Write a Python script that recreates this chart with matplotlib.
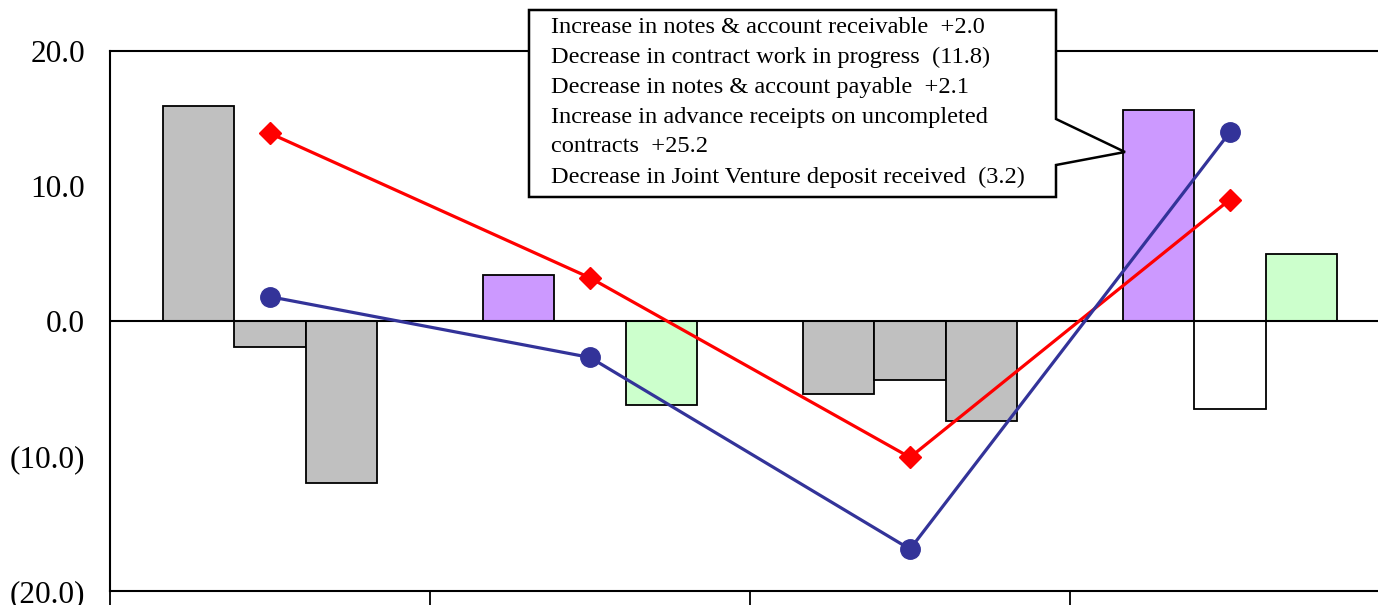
import numpy as np
import matplotlib
matplotlib.use("Agg")
import matplotlib.pyplot as plt
from matplotlib.patches import Polygon

plt.rcParams['font.family'] = ['Liberation Serif', 'DejaVu Serif']

# ---- data ----
groups = [0, 1, 2, 3]
bar_a = [15.9, 3.4, -5.4, 15.6]
bar_b = [-1.9, 0.0, -4.4, -6.5]
bar_c = [-12.0, -6.2, -7.4, 5.0]
colors_a = ['#C0C0C0', '#CC99FF', '#C0C0C0', '#CC99FF']
colors_b = ['#C0C0C0', '#FFFFFF', '#C0C0C0', '#FFFFFF']
colors_c = ['#C0C0C0', '#CCFFCC', '#C0C0C0', '#CCFFCC']
red_line = [13.9, 3.2, -10.1, 9.0]
blue_line = [1.8, -2.7, -16.9, 14.0]
ytick_vals = [-20, -10, 0, 10, 20]
ytick_labels = ['(20.0)', '(10.0)', '0.0', '10.0', '20.0']
callout_lines = [
    "Increase in notes & account receivable  +2.0",
    "Decrease in contract work in progress  (11.8)",
    "Decrease in notes & account payable  +2.1",
    "Increase in advance receipts on uncompleted",
    "contracts  +25.2",
    "Decrease in Joint Venture deposit received  (3.2)",
]

W, H = 1378, 605
fig = plt.figure(figsize=(W / 100, H / 100), dpi=100)
ax = fig.add_axes([110 / W, 14 / H, 1280 / W, 540 / H])

centers = np.array(groups) + 0.5
bw = 0.2235
for vals, cols, off in [(bar_a, colors_a, -bw), (bar_b, colors_b, 0.0), (bar_c, colors_c, bw)]:
    ax.bar(centers + off, vals, width=bw, color=cols, edgecolor='black', linewidth=1.3, zorder=2)

ax.axhline(0, color='black', linewidth=1.5, zorder=3)

ax.plot(centers, red_line, color='#FF0000', linewidth=2.3, marker='D', markersize=11, zorder=4)
ax.plot(centers, blue_line, color='#333399', linewidth=2.3, marker='o', markersize=14, zorder=5)

ax.set_xlim(0, 4)
ax.set_ylim(-20, 20)
ax.set_xticks([0, 1, 2, 3, 4])
ax.set_xticklabels([])
ax.tick_params(axis='x', direction='out', length=12, width=1.3)
ax.set_yticks(ytick_vals)
ax.set_yticklabels(ytick_labels, fontsize=22.5)
ax.tick_params(axis='y', length=0, pad=18)
for s in ax.spines.values():
    s.set_linewidth(1.5)

# callout box with pointer (pixel coords -> figure fraction)
pts = [(529, 10), (1056, 10), (1056, 119), (1125, 152), (1056, 165),
       (1056, 197), (529, 197)]
pts = [(x / W, 1 - y / H) for x, y in pts]
fig.patches.append(Polygon(pts, closed=True, transform=fig.transFigure,
                           facecolor='white', edgecolor='black', linewidth=1.8, zorder=10))
fig.text(551 / W, 1 - 17 / H, "\n".join(callout_lines), fontsize=17.6,
         va='top', ha='left', linespacing=1.55, zorder=11)

fig.savefig("out.png", dpi=100)
